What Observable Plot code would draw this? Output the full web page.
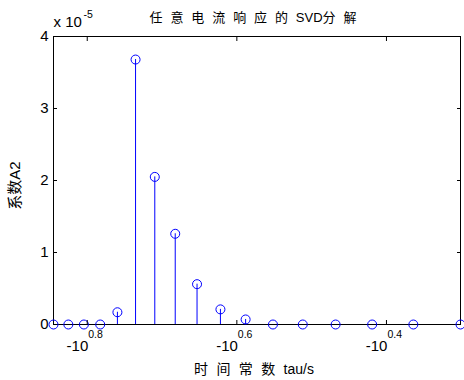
<!DOCTYPE html>
<html><head><meta charset="utf-8">
<script src="https://cdn.jsdelivr.net/npm/d3@7"></script>
<script src="https://cdn.jsdelivr.net/npm/@observablehq/plot@0.6"></script>
<style>body{margin:0;background:#fff}</style>
</head><body><div id="chart"></div>
<script>
const tau = [-7, -6.6875, -6.375, -6.0625, -5.75, -5.4375, -5.125, -4.8125, -4.5, -4.1875, -3.875, -3.5625, -3.25, -2.9375, -2.625, -2.3125, -2];
const coef = [0, 0, 0, 0, 0.17e-5, 3.68e-5, 2.05e-5, 1.26e-5, 0.56e-5, 0.21e-5, 0.07e-5, 0, 0, 0, 0, 0, 0];
const xTicks = [-6.3096, -3.9811, -2.5119];
const xTickBase = "-10";
const yTicks = [0, 1e-5, 2e-5, 3e-5, 4e-5];
const yScaleBase = "x 10";
const yScaleExp = "-5";
const title = "任 意 电 流 响 应 的 SVD分 解";
const xLabel = "时 间 常 数 tau/s";
const yLabel = "系数A2";

const points = tau.map((t, i) => ({tau: t, coef: coef[i]}));
const font = "'Liberation Sans', Arial, 'Noto Sans CJK SC', sans-serif";

const chart = Plot.plot({
  width: 464, height: 380,
  marginLeft: 53, marginRight: 4, marginTop: 36, marginBottom: 56,
  style: {fontFamily: font, color: "black", background: "white", overflow: "visible"},
  x: {type: "log", domain: [-7, -2]},
  y: {domain: [0, 4e-5]},
  marks: [
    Plot.frame({stroke: "black"}),
    Plot.ruleX(points, {x: "tau", y1: 0, y2: "coef", stroke: "#0000ff"}),
    Plot.dot(points, {x: "tau", y: "coef", r: 4.5, stroke: "#0000ff", fill: "none", strokeWidth: 1}),
    Plot.axisY(yTicks, {anchor: "left", tickSize: -4, tickPadding: 9, tickFormat: d => String(Math.round(d * 1e5)), fontSize: 15, label: null}),
    Plot.axisY(yTicks, {anchor: "right", tickSize: -4, tickFormat: () => "", label: null}),
    Plot.axisX(xTicks, {anchor: "top", tickSize: -4, tickFormat: () => "", label: null}),
    Plot.axisX(xTicks, {anchor: "bottom", tickSize: -4, tickFormat: () => "", label: null}),
    Plot.axisX(xTicks, {anchor: "bottom", tickSize: 0, tickPadding: 16, tickFormat: () => xTickBase, textAnchor: "end", dx: 1, fontSize: 15, label: null}),
    Plot.axisX(xTicks, {anchor: "bottom", tickSize: 0, tickPadding: 6, tickFormat: d => Math.log10(-d).toFixed(1), textAnchor: "start", dx: 1, fontSize: 10.5, label: null}),
    Plot.text([title], {frameAnchor: "top", dx: -4, dy: -19, lineAnchor: "middle", textAnchor: "middle", text: d => d, fontSize: 13}),
    Plot.text([xLabel], {frameAnchor: "bottom", dx: -3, dy: 45, lineAnchor: "middle", textAnchor: "middle", text: d => d, fontSize: 14}),
    Plot.text([yLabel], {frameAnchor: "left", dx: -38, dy: 5, rotate: -90, lineAnchor: "middle", textAnchor: "middle", text: d => d, fontSize: 15}),
    Plot.text([yScaleBase], {frameAnchor: "top-left", dx: 0, dy: -14, lineAnchor: "middle", textAnchor: "start", text: d => d, fontSize: 15}),
    Plot.text([yScaleExp], {frameAnchor: "top-left", dx: 30, dy: -22, lineAnchor: "middle", textAnchor: "start", text: d => d, fontSize: 10.5})
  ]
});
d3.select(chart).selectAll("text")
  .filter(function() { return this.textContent === title; })
  .style("word-spacing", "4.3px");
d3.select(chart).selectAll("text")
  .filter(function() { return this.textContent === xLabel; })
  .style("word-spacing", "4.5px");
document.getElementById("chart").appendChild(chart);
</script>
</body></html>
